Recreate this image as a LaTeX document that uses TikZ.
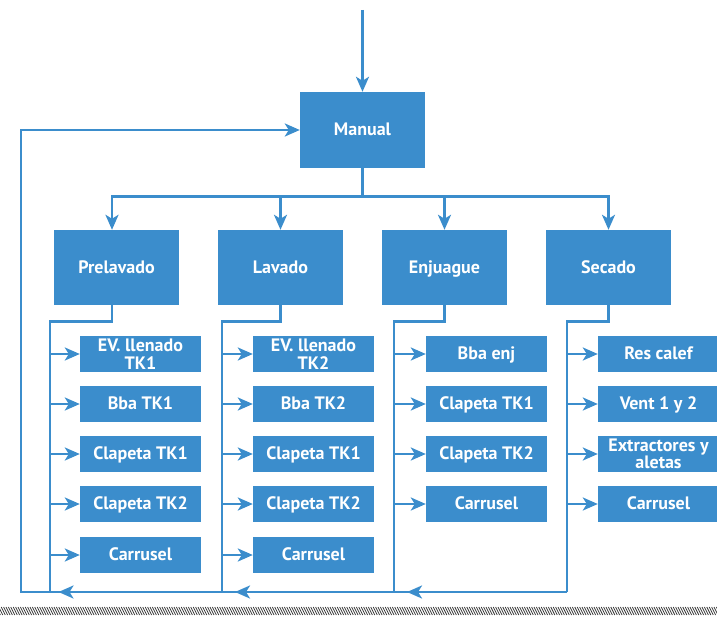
\documentclass[tikz,border=0pt]{standalone}
\usepackage{fontspec}
\setmainfont{PT Sans}
\usetikzlibrary{arrows.meta}
\definecolor{flowblue}{RGB}{59,141,204}
\definecolor{hatchgray}{RGB}{60,60,60}
\tikzset{
  box/.style={fill=flowblue, draw=none, text=white, align=center,
    font=\bfseries\fontsize{18}{17.5}\selectfont, inner sep=0pt},
  stage/.style={box, minimum width=125pt, minimum height=75pt,
    text height=12.5pt, text depth=1.5pt},
  item/.style={box, minimum width=121pt, minimum height=36pt},
  oneline/.style={item, text height=12.5pt, text depth=1.5pt},
  wire/.style={draw=flowblue, line width=2.6pt},
  tip/.style={wire, -{Stealth[length=15pt,width=13pt,inset=4pt]}},
  hatch/.style={draw=hatchgray, line width=0.8pt}
}
\begin{document}
\begin{tikzpicture}[x=1pt,y=-1pt]
\useasboundingbox (0,0) rectangle (717,620);
\begin{scope}
\clip (0,0) rectangle (717,620);

% main control block and the four stages
\node[stage, minimum height=76pt] (man) at (362.5,130) {Manual};
\node[stage] (pre) at (116.5,267.5) {Prelavado};
\node[stage] (lav) at (280.5,267.5) {Lavado};
\node[stage] (enj) at (444.5,267.5) {Enjuague};
\node[stage] (sec) at (608.5,267.5) {Secado};

% outputs of each stage
\node[item] (p1) at (140.5,354) {EV. llenado\\TK1};
\node[oneline] (p2) at (140.5,404) {Bba TK1};
\node[oneline] (p3) at (140.5,454) {Clapeta TK1};
\node[oneline] (p4) at (140.5,504) {Clapeta TK2};
\node[oneline] (p5) at (140.5,555) {Carrusel};

\node[item] (l1) at (313.5,354) {EV. llenado\\TK2};
\node[oneline] (l2) at (313.5,404) {Bba TK2};
\node[oneline] (l3) at (313.5,454) {Clapeta TK1};
\node[oneline] (l4) at (313.5,504) {Clapeta TK2};
\node[oneline] (l5) at (313.5,555) {Carrusel};

\node[oneline] (e1) at (486.5,354) {Bba enj};
\node[oneline] (e2) at (486.5,404) {Clapeta TK1};
\node[oneline] (e3) at (486.5,454) {Clapeta TK2};
\node[oneline] (e4) at (486.5,504) {Carrusel};

\node[oneline] (s1) at (658.5,354) {Res calef};
\node[oneline] (s2) at (658.5,404) {Vent 1 y 2};
\node[item] (s3) at (658.5,454) {Extractores y\\aletas};
\node[oneline] (s4) at (658.5,504) {Carrusel};

% routing points
\coordinate (src) at (362.5,10);
\coordinate (hub) at (362.5,196.5);
\coordinate (bp) at (50,592);
\coordinate (bl) at (222,592);
\coordinate (be) at (394,592);
\coordinate (bs) at (567,592);
\coordinate (ret) at (21,592);

% input and distribution to the stages
\draw[tip] (src) -- (man.north);
\draw[tip] (man.south) -- (hub) -| ([xshift=-4.5pt]pre.north);
\draw[tip] (hub) -| (lav.north);
\draw[tip] (hub) -| (enj.north);
\draw[tip] (hub) -| (sec.north);

% stage buses
\draw[wire] ([xshift=-4.5pt]pre.south) -- ++(0,16.5) -| (bp);
\draw[wire] (lav.south) -- ++(0,16.5) -| (bl);
\draw[wire] (enj.south) -- ++(0,16.5) -| (be);
\draw[wire] (sec.south) -- ++(0,16.5) -| (bs);

% feeds to the outputs
\foreach \n in {p1,p2,p3,p4,p5} \draw[tip] (\n.west -| bp) -- (\n.west);
\foreach \n in {l1,l2,l3,l4,l5} \draw[tip] (\n.west -| bl) -- (\n.west);
\foreach \n in {e1,e2,e3,e4} \draw[tip] (\n.west -| be) -- (\n.west);
\foreach \n in {s1,s2,s3,s4} \draw[tip] (\n.west -| bs) -- (\n.west);

% return path back to the manual block
\draw[tip] (bs) -- (ret) |- (man.west);
\draw[tip] ([xshift=34pt]be) -- ([xshift=13pt]be);
\draw[tip] ([xshift=34pt]bl) -- ([xshift=13pt]bl);
\draw[tip] ([xshift=30pt]bp) -- ([xshift=8.5pt]bp);

% hatched ground strip
\foreach \x in {-6,-3.6,...,720} \draw[hatch] (\x,607) -- (\x+4,615);
\end{scope}
\end{tikzpicture}
\end{document}
